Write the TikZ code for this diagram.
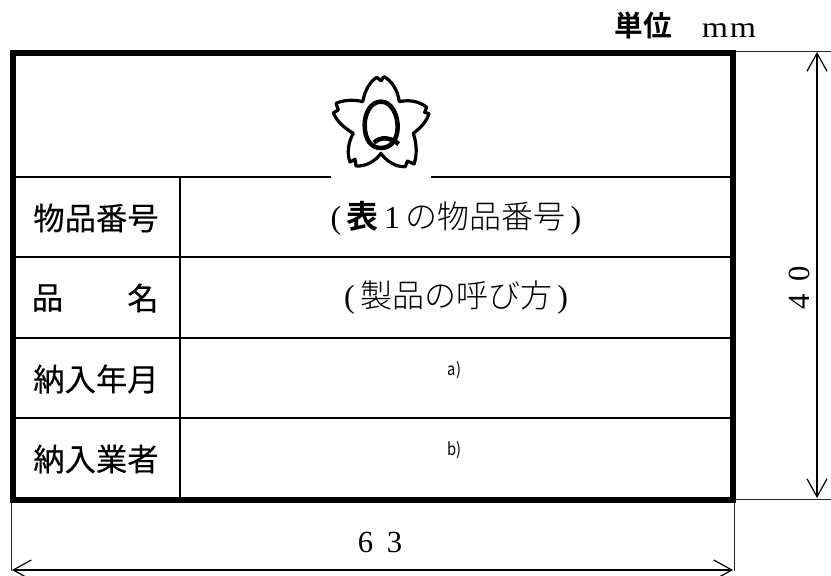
\documentclass[tikz,border=0pt]{standalone}
\usepackage{fontspec}
\setmainfont{Liberation Serif}
\newfontfamily\jp{Noto Sans CJK JP Light}
\newfontfamily\jpm[FakeBold=0.25]{Noto Sans CJK JP}
\newfontfamily\jpr{Noto Sans CJK JP}
\newfontfamily\jpb{Noto Sans CJK JP Bold}
\usetikzlibrary{arrows.meta}
\tikzset{
  frameline/.style={line width=4.5pt,line join=miter},
  rowline/.style={line width=1.5pt},
  dimline/.style={line width=0.75pt,black!85},
  dimarrow/.style={line width=0.9pt,{Straight Barb[length=13.5pt,width=15pt,line width=0.9pt]}-{Straight Barb[length=13.5pt,width=15pt,line width=0.9pt]}},
  headcell/.style={font=\jpm\fontsize{23.5}{24}\selectfont,inner sep=0pt,anchor=center},
  valcell/.style={font=\jp\fontsize{24}{24}\selectfont,inner sep=0pt,anchor=center},
  notecell/.style={font=\jpr\fontsize{13}{13}\selectfont,inner sep=0pt,anchor=center,xscale=0.85},
  dimtext/.style={font=\fontsize{23}{23}\selectfont,inner sep=0pt,anchor=center},
  mmtext/.style={font=\fontsize{22}{22}\selectfont,inner sep=0pt,anchor=center,xscale=1.15},
}
\begin{document}
\begin{tikzpicture}[x=0.75pt,y=-0.75pt]
\useasboundingbox (0,0) rectangle (831,575);
% table grid
\draw[rowline] (13,177) -- (331,177) (431,177) -- (733,177);
\draw[rowline] (13,257) -- (733,257);
\draw[rowline] (13,338) -- (733,338);
\draw[rowline] (13,418) -- (733,418);
\draw[rowline] (180,177) -- (180,500);
\draw[frameline] (13,53) rectangle (733,500);
% dimension coordinates
\coordinate (rt) at (736,51);
\coordinate (rte) at (831,51);
\coordinate (rb) at (736,499);
\coordinate (rbe) at (831,499);
\coordinate (at) at (817,52);
\coordinate (ab) at (817,498);
\coordinate (lb) at (11,503);
\coordinate (lbe) at (11,571);
\coordinate (rr) at (734,503);
\coordinate (rre) at (734,571);
\coordinate (al) at (12,570);
\coordinate (ar) at (733,570);
\draw[dimline] (rt) -- (rte);
\draw[dimline] (rb) -- (rbe);
\draw[dimline] (lb) -- (lbe);
\draw[dimline] (rr) -- (rre);
\draw[dimarrow] (at) -- (ab);
\draw[dimarrow] (al) -- (ar);
% emblem
\begin{scope}[shift={(250,60)},x=0.25pt,y=-0.25pt,line join=round]
\draw[line width=2.4pt]
 (338,125) .. controls (345,90) and (360,65) .. (380,52)
 -- (393,62) -- (402,50)
 .. controls (425,62) and (443,90) .. (448,125)
 .. controls (480,118) and (510,125) .. (530,142)
 -- (524,157) -- (537,161)
 .. controls (530,185) and (510,205) .. (490,220)
 .. controls (500,250) and (502,285) .. (492,312)
 -- (472,303) -- (466,320)
 .. controls (440,322) and (410,305) .. (393,280)
 .. controls (375,305) and (345,320) .. (318,318)
 -- (315,298) -- (300,306)
 .. controls (290,280) and (295,245) .. (310,220)
 .. controls (285,205) and (260,185) .. (250,158)
 -- (265,150) -- (258,130)
 .. controls (280,120) and (310,118) .. (338,125) -- cycle;
\draw[line width=3.4pt]
 (393,125) .. controls (425,125) and (443,165) .. (443,200)
 .. controls (443,240) and (422,264) .. (393,264)
 .. controls (364,264) and (344,240) .. (344,195)
 .. controls (344,160) and (362,125) .. (393,125) -- cycle;
\draw[line width=3.4pt] (372,248) .. controls (390,230) and (420,230) .. (446,252);
\end{scope}
% labels
\node[font=\jpb\fontsize{21.5}{22}\selectfont,inner sep=0pt] (unit) at (643,26) {単位};
\node[mmtext] (mma) at (715,31) {m};
\node[mmtext] (mmb) at (743,31) {m};
\node[headcell] (h1) at (96,218) {物品番号};
\node[headcell] (h2a) at (47.5,298) {品};
\node[headcell] (h2b) at (143,298) {名};
\node[headcell] (h3) at (96,379) {納入年月};
\node[headcell] (h4) at (96,459) {納入業者};
\node[valcell] (v1) at (456,218) {\rmfamily(\,\jpb 表\,\rmfamily 1\,\jp の物品番号\rmfamily\,)};
\node[valcell] (v2) at (456,298) {\rmfamily(\,\jp 製品の呼び方\rmfamily\,)};
\node[notecell] (na) at (454.5,370) {a)};
\node[notecell] (nb) at (454.5,450) {b)};
\node[dimtext] (w6) at (365.5,542) {6};
\node[dimtext] (w3) at (394.5,542) {3};
\node[dimtext,rotate=90] (h4d) at (799,302) {4};
\node[dimtext,rotate=90] (h0d) at (799,274) {0};
\end{tikzpicture}
\end{document}
